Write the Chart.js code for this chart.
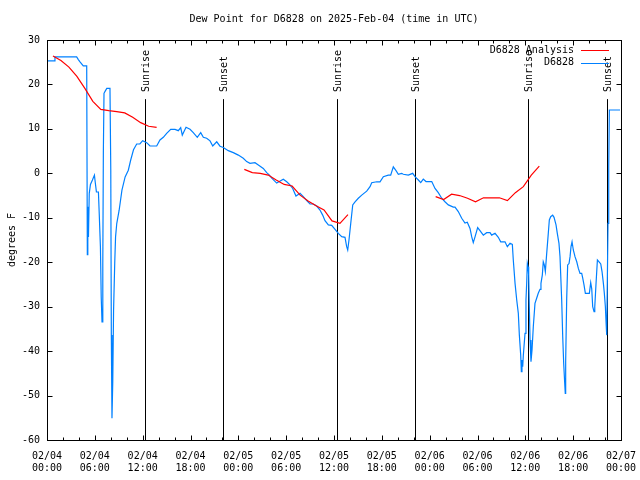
<!DOCTYPE html>
<html>
<head>
<meta charset="utf-8">
<title>Dew Point for D6828</title>
<script src="https://cdn.jsdelivr.net/npm/chart.js@4.4.1/dist/chart.umd.min.js"></script>
<style>
  html, body { margin: 0; padding: 0; background: #fff; }
  #chart { display: block; }
</style>
</head>
<body>
<canvas id="chart" width="640" height="480"></canvas>
<script>
// hours since 2025-02-04 00:00 UTC
const obsHours = [
  0, 0.95, 1.0, 3.72, 3.93, 4.14, 4.55, 4.98, 5.06, 5.12, 5.2, 5.3, 5.45, 5.7, 5.95, 6.05, 6.2, 6.45,
  6.55, 6.7, 6.8, 6.9, 7.0, 7.07, 7.15, 7.3, 7.5, 7.9, 8.0, 8.07, 8.15, 8.25, 8.35, 8.5, 8.6, 8.75,
  9.05, 9.4, 9.8, 10.2, 10.5, 10.85, 11.25, 11.65, 12.0, 12.5, 12.92, 13.76, 14.17, 14.59, 15.01,
  15.52, 16.06, 16.47, 16.77, 16.97, 17.44, 17.94, 18.35, 18.85, 19.28, 19.61, 20.03, 20.45, 20.79,
  21.29, 21.7, 22.12, 22.74, 23.37, 24.0, 24.62, 25.05, 25.46, 26.09, 26.51, 27.13, 27.56, 27.9,
  28.19, 28.81, 29.64, 30.07, 30.48, 30.82, 31.23, 31.74, 32.15, 32.58, 32.99, 33.4, 33.83, 34.24,
  34.58, 34.87, 35.29, 35.71, 36.13, 36.54, 36.97, 37.38, 37.59, 37.72, 37.88, 38.1, 38.35, 38.64,
  39.05, 39.48, 40.1, 40.52, 40.73, 41.36, 41.77, 42.19, 42.81, 43.11, 43.44, 43.78, 44.07, 44.49,
  44.69, 45.32, 45.87, 46.16, 46.58, 46.88, 47.2, 47.54, 48.26, 48.67, 49.08, 49.51, 49.92, 50.34,
  50.97, 51.18, 51.59, 52.02, 52.43, 52.72, 53.06, 53.27, 53.47, 53.69, 54.02, 54.31, 54.73, 55.15,
  55.57, 55.78, 56.2, 56.61, 56.91, 57.45, 57.74, 58.08, 58.37, 58.49, 58.71, 58.92, 59.12, 59.25,
  59.42, 59.5, 59.58, 59.67, 59.75, 59.96, 60.08, 60.17, 60.25, 60.34, 60.42, 60.5, 60.59, 60.71,
  60.84, 61.0, 61.21, 61.42, 61.62, 61.84, 61.96, 62.13, 62.25, 62.38, 62.51, 62.68, 62.88, 63.01,
  63.18, 63.43, 63.6, 63.85, 64.01, 64.22, 64.35, 64.56, 64.69, 64.81, 64.94, 65.01, 65.06, 65.19,
  65.31, 65.48, 65.61, 65.73, 65.86, 66.02, 66.23, 66.45, 66.65, 66.86, 67.07, 67.2, 67.36, 67.53,
  68.03, 68.2, 68.33, 68.45, 68.62, 68.71, 68.87, 69.04, 69.25, 69.46, 69.62, 69.79, 69.91, 70.04,
  70.13, 70.21, 70.29, 70.37, 70.46, 70.54, 71.88
];
const obsDewF = [
  25.3, 25.3, 26.2, 26.2, 25.6, 25.1, 24.2, 24.2, -18.3, -7.5, -14.3, -4.5, -2.5, -1.5, -0.4, -2.0, -4.2, -4.2,
  -9.0, -16.5, -27.8, -33.4, -20.3, 5.0, 18.0, 18.5, 19.1, 19.1, 0.7, -36.4, -55.1, -46.8, -30.8, -19.9, -14.3, -11.3,
  -8.3, -3.8, -0.8, 0.7, 3.0, 5.3, 6.6, 6.6, 7.35, 6.9, 6.15, 6.15, 7.5, 8.1, 9.0,
  9.9, 9.9, 9.6, 10.3, 8.6, 10.35, 9.9, 9.15, 8.1, 9.15, 8.1, 7.9, 7.3, 6.15,
  7.1, 6.1, 5.8, 5.1, 4.65, 4.1, 3.4, 2.65, 2.25, 2.4, 1.9, 1.1, 0.15, -0.4,
  -1.1, -2.2, -1.35, -1.9, -2.6, -3.4, -5.1, -4.5, -5.25, -6.15, -6.9, -6.9, -7.35, -8.25,
  -9.4, -10.65, -11.6, -11.7, -12.6, -13.5, -14.25, -14.4, -16.5, -17.25, -15.0, -11.25, -7.1, -6.4,
  -5.6, -4.9, -4.0, -3.0, -2.1, -1.9, -1.9, -0.75, -0.4, -0.4, 1.45, 0.6, -0.2, 0.0,
  -0.2, -0.4, 0.0, -0.75, -1.5, -2.1, -1.3, -1.85, -1.85, -3.4, -4.35, -5.6, -6.4, -7.1,
  -7.6, -7.6, -8.6, -10.1, -11.2, -11.0, -12.4, -14.25, -15.6, -14.3, -12.2, -12.9, -13.9, -13.35,
  -13.35, -13.9, -13.5, -14.4, -15.4, -15.4, -16.5, -15.75, -16.0, -19.5, -24.75, -28.5, -31.5, -36.4,
  -40.9, -44.6, -42.0, -43.5, -40.9, -36.0, -28.5, -24.75, -20.25, -21.0, -23.0, -30.0, -37.5, -42.4,
  -39.75, -34.5, -29.25, -28.1, -27.0, -26.1, -24.75, -22.9, -19.9, -20.6, -22.1, -18.0, -13.5, -10.5,
  -9.75, -9.4, -9.9, -11.6, -13.5, -15.75, -18.75, -28.5, -36.75, -42.75, -47.25, -49.5, -42.4, -28.1,
  -20.6, -20.3, -18.75, -16.5, -15.4, -17.25, -18.75, -19.9, -21.4, -22.5, -22.5, -23.6, -25.1, -27.0,
  -27.0, -24.6, -26.0, -30.0, -31.1, -30.0, -24.75, -19.5, -19.9, -20.4, -22.1, -24.75, -27.0, -30.0,
  -33.75, -36.4, -23.6, -11.25, 1.5, 14.25, 14.25
];

// analysis, hourly; null breaks the line between runs
const anaHours = [
  0.75, 1.75, 2.75, 3.75, 4.75, 5.75, 6.75, 7.75, 8.75, 9.75, 10.75, 11.75, 12.75, 13.75,
  19,
  24.75, 25.75, 26.75, 27.75, 28.75, 29.75, 30.75, 31.75, 32.75, 33.75, 34.75, 35.75, 36.75, 37.75,
  43,
  48.75, 49.75, 50.75, 51.75, 52.75, 53.75, 54.75, 55.75, 56.75, 57.75, 58.75, 59.75, 60.75, 61.75
];
const anaDewF = [
  26.4, 25.4, 23.9, 21.8, 19.1, 16.2, 14.4, 14.1, 13.9, 13.6, 12.6, 11.4, 10.6, 10.35,
  null,
  0.9, 0.15, 0.0, -0.4, -1.5, -2.5, -2.85, -4.9, -6.2, -7.3, -8.25, -10.7, -11.25, -9.3,
  null,
  -5.25, -5.9, -4.7, -5.0, -5.6, -6.4, -5.5, -5.5, -5.5, -6.15, -4.35, -3.0, -0.4, 1.6
];

const sunHours  = [12.29, 22.12, 36.34, 46.2, 60.38, 70.2];
const sunLabels = ["Sunrise", "Sunset", "Sunrise", "Sunset", "Sunrise", "Sunset"];
const SUN_LINE_TOP = 16.7;

const dayLabels = ["02/04", "02/05", "02/06", "02/07"];

const FONT = "10px 'DejaVu Sans Mono', monospace";
const RED = "#ff0000";
const BLUE = "#0080ff";

// ── Gnuplot-ish frame, inward ticks, labels, legend ───────────────────────────
const decorations = {
  id: "decorations",
  beforeDatasetsDraw(chart) {
    const { ctx, chartArea: a, scales: { x, y } } = chart;
    ctx.save();
    ctx.strokeStyle = "#000";
    ctx.fillStyle = "#000";
    ctx.lineWidth = 1;
    ctx.font = FONT;
    const top = y.getPixelForValue(SUN_LINE_TOP);
    sunHours.forEach((h, i) => {
      const px = Math.round(x.getPixelForValue(h)) + 0.5;
      ctx.beginPath();
      ctx.moveTo(px, a.bottom);
      ctx.lineTo(px, top);
      ctx.stroke();
      ctx.save();
      ctx.translate(px + 1, top - 7);
      ctx.rotate(-Math.PI / 2);
      ctx.textAlign = "left";
      ctx.textBaseline = "middle";
      ctx.fillText(sunLabels[i], 0, 0);
      ctx.restore();
    });
    ctx.restore();
  },
  afterDraw(chart) {
    const { ctx, chartArea: a, scales: { x, y } } = chart;
    ctx.save();
    ctx.strokeStyle = "#000";
    ctx.fillStyle = "#000";
    ctx.lineWidth = 1;

    const L = Math.round(a.left) + 0.5, R = Math.round(a.right) + 0.5;
    const T = Math.round(a.top) + 0.5, B = Math.round(a.bottom) + 0.5;
    ctx.strokeRect(L, T, R - L, B - T);

    ctx.beginPath();
    for (let h = 0; h <= 72; h += 2) {
      const px = Math.round(x.getPixelForValue(h)) + 0.5;
      const len = h % 6 === 0 ? 5 : 3;
      ctx.moveTo(px, B); ctx.lineTo(px, B - len);
      ctx.moveTo(px, T); ctx.lineTo(px, T + len);
    }
    for (let v = -60; v <= 30; v += 10) {
      const py = Math.round(y.getPixelForValue(v)) + 0.5;
      ctx.moveTo(L, py); ctx.lineTo(L + 5, py);
      ctx.moveTo(R, py); ctx.lineTo(R - 5, py);
    }
    ctx.stroke();

    ctx.font = FONT;
    ctx.textBaseline = "middle";
    ctx.textAlign = "center";
    ctx.fillText("Dew Point for D6828 on 2025-Feb-04 (time in UTC)", (a.left + a.right) / 2, 19);

    ctx.save();
    ctx.translate(12, (a.top + a.bottom) / 2);
    ctx.rotate(-Math.PI / 2);
    ctx.fillText("degrees F", 0, 0);
    ctx.restore();

    // legend
    const rows = [["D6828 Analysis", RED], ["D6828", BLUE]];
    rows.forEach(([label, color], i) => {
      const ry = 50 + i * 12.5;
      ctx.fillStyle = "#000";
      ctx.textAlign = "right";
      ctx.fillText(label, 574, ry);
      ctx.strokeStyle = color;
      ctx.beginPath();
      ctx.moveTo(581, Math.round(ry) + 0.5);
      ctx.lineTo(609, Math.round(ry) + 0.5);
      ctx.stroke();
    });
    ctx.restore();
  },
};

const toPoints = (xs, ys) => xs.map((h, i) => ({ x: h, y: ys[i] }));

new Chart(document.getElementById("chart"), {
  type: "line",
  data: {
    datasets: [
      {
        label: "D6828 Analysis",
        data: toPoints(anaHours, anaDewF),
        borderColor: RED,
        borderWidth: 1.2,
        pointRadius: 0,
        tension: 0,
        spanGaps: false,
      },
      {
        label: "D6828",
        data: toPoints(obsHours, obsDewF),
        borderColor: BLUE,
        borderWidth: 1.2,
        pointRadius: 0,
        tension: 0,
      },
    ],
  },
  options: {
    responsive: false,
    animation: false,
    devicePixelRatio: 1,
    layout: { padding: { left: 0, right: 19, top: 40, bottom: 0 } },
    plugins: { legend: { display: false }, tooltip: { enabled: false }, title: { display: false } },
    scales: {
      x: {
        type: "linear",
        min: 0, max: 72,
        afterFit: s => { s.height = 40; s.paddingLeft = 0; s.paddingRight = 0; },
        grid: { display: false, drawTicks: false },
        border: { display: false },
        ticks: {
          stepSize: 6,
          autoSkip: false,
          maxRotation: 0,
          padding: 10,
          color: "#000",
          font: { family: "'DejaVu Sans Mono', monospace", size: 10, lineHeight: 1.2 },
          callback: v => {
            const day = dayLabels[Math.floor(v / 24)];
            const hr = String(v % 24).padStart(2, "0");
            return [day, hr + ":00"];
          },
        },
      },
      y: {
        min: -60, max: 30,
        afterFit: s => { s.width = 47; s.paddingTop = 0; s.paddingBottom = 0; },
        grid: { display: false, drawTicks: false },
        border: { display: false },
        ticks: {
          stepSize: 10,
          padding: 7,
          color: "#000",
          font: { family: "'DejaVu Sans Mono', monospace", size: 10 },
        },
      },
    },
  },
  plugins: [decorations],
});
</script>
</body>
</html>
